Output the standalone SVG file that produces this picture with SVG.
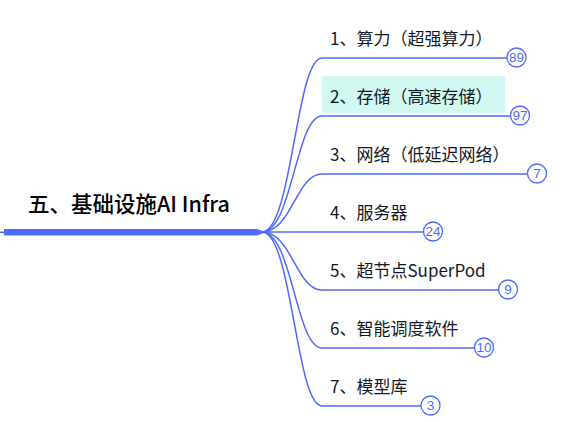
<svg xmlns="http://www.w3.org/2000/svg" width="580" height="422" viewBox="0 0 580 422">
<style>
.br{fill:none;stroke:#4d6bfe;stroke-width:1.5}
.cnt circle{fill:#fff;stroke:#4d6bfe;stroke-width:1.3}
.cnt text{font-family:"Liberation Sans",Arial,sans-serif;font-size:13.5px;fill:#4d6bfe;text-anchor:middle}
.lbl{font-family:"Noto Sans CJK SC","Liberation Sans",sans-serif;font-size:17px;fill:#111827}
.root{font-family:"Noto Sans CJK SC","Liberation Sans",sans-serif;font-size:21.5px;font-weight:500;fill:#000}
</style>
<rect width="580" height="422" fill="#fff"/>
<g id="connectors">
<path class="br" d="M262,232 C292,232 296,58 322,58 H507"/>
<path class="br" d="M262,232 C292,232 296,116 322,116 H510.5"/>
<path class="br" d="M262,232 C292,232 296,174 322,174 H527.5"/>
<path class="br" d="M262,232 H423.5"/>
<path class="br" d="M262,232 C292,232 296,290 322,290 H498.5"/>
<path class="br" d="M262,232 C292,232 296,348 322,348 H474.5"/>
<path class="br" d="M262,232 C292,232 296,406 322,406 H421"/>
</g>
<g id="root">
<line x1="0" y1="232.3" x2="5" y2="232.3" stroke="#4d6bfe" stroke-width="1.5"/>
<rect x="4" y="229" width="253" height="6.5" fill="#4d6bfe"/>
<polygon points="257,229 266,232.3 257,235.5" fill="#4d6bfe"/>
<text class="root" x="28" y="211.5">五、基础设施AI Infra</text>
</g>
<g id="n1"><text class="lbl" x="330" y="45">1、算力（超强算力）</text>
<g class="cnt"><circle cx="516.5" cy="57.5" r="9.5"/><text x="516.5" y="62.3">89</text></g></g>
<g id="n2"><rect x="322" y="76" width="183" height="37" fill="#d2f8f2"/>
<text class="lbl" x="330" y="103">2、存储（高速存储）</text>
<g class="cnt"><circle cx="520" cy="115.5" r="9.5"/><text x="520" y="120.3">97</text></g></g>
<g id="n3"><text class="lbl" x="330" y="161">3、网络（低延迟网络）</text>
<g class="cnt"><circle cx="537" cy="173.5" r="9.5"/><text x="537" y="178.3">7</text></g></g>
<g id="n4"><text class="lbl" x="330" y="219">4、服务器</text>
<g class="cnt"><circle cx="433" cy="231.5" r="9.5"/><text x="433" y="236.3">24</text></g></g>
<g id="n5"><text class="lbl" x="330" y="277">5、超节点SuperPod</text>
<g class="cnt"><circle cx="508" cy="289.5" r="9.5"/><text x="508" y="294.3">9</text></g></g>
<g id="n6"><text class="lbl" x="330" y="335">6、智能调度软件</text>
<g class="cnt"><circle cx="484" cy="347.5" r="9.5"/><text x="484" y="352.3">10</text></g></g>
<g id="n7"><text class="lbl" x="330" y="393">7、模型库</text>
<g class="cnt"><circle cx="430.5" cy="405.5" r="9.5"/><text x="430.5" y="410.3">3</text></g></g>
</svg>
